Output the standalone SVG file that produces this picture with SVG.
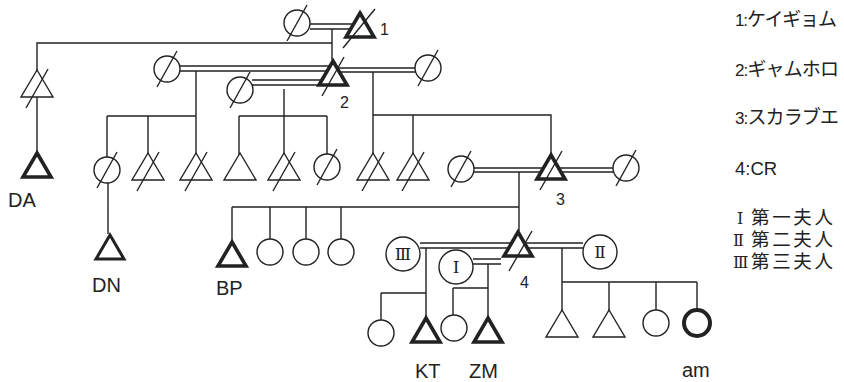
<svg xmlns="http://www.w3.org/2000/svg" width="844" height="382" viewBox="0 0 844 382">
<style>
.ln{stroke:#222;stroke-width:1.4;fill:none}
.nd{fill:#fff;stroke:#222;stroke-width:1.4}
.bd{fill:#fff;stroke:#222;stroke-width:3.6;stroke-linejoin:miter}
.bc{fill:#fff;stroke:#222;stroke-width:4}
.sl{stroke:#222;stroke-width:1.4}
.lb{font-family:"Liberation Sans",Arial,sans-serif;font-size:20px;fill:#222}
.num{font-size:16px}
.lg{font-family:"Liberation Sans","Noto Sans CJK JP",sans-serif;font-size:17px;fill:#222}
.jp{font-family:"Noto Sans CJK JP",sans-serif;font-size:19px}
.jk{font-family:"Noto Sans CJK JP",sans-serif;font-size:18.5px;fill:#222}
.rs{font-family:"DejaVu Serif","Liberation Serif","Noto Sans CJK JP",serif;font-size:16px;fill:#222}
.rn{font-family:"DejaVu Serif","Liberation Serif","Noto Sans CJK JP",serif;font-size:17px;fill:#222;text-anchor:middle}
</style>
<defs>
<polygon id="tri" points="0,0 16,27 -16,27"/>
<polygon id="trb" points="0,3 14,27 -14,27"/>
<line id="ts" x1="-11" y1="38" x2="11" y2="-1"/>
<circle id="c" r="13"/>
<circle id="cw" r="17"/>
<line id="cs" x1="-10" y1="18" x2="10" y2="-18"/>
</defs>
<g id="connectors" class="ln">
<path d="M310,24H358M310,29H358M332,29V60M332,43H37V72M37,97V152"/>
<path d="M180,66H333M180,71H333M196,71V116M107,116H196M107,116V157M148,116V155M196,116V155"/>
<path d="M252,80H333M252,85H333M284,89V155M239,116H327M239,116V155M327,116V154"/>
<path d="M333,68H415M333,72H415M373,72V155M373,115H551V154M413,115V155"/>
<path d="M474,168H613M474,172H613M519,172V231M232,207H519M232,207V241M270,207V239M306,207V239M341,207V239M108,183V234"/>
<path d="M420,243H518M420,248H518M473,259H501M473,264H501M518,243H583M518,248H583"/>
<path d="M426,248V317M381,293H426M381,293V320M488,264V317M453,288H488M453,288V315"/>
<path d="M562,248V312M562,282H697M609,282V312M656,282V310M697,282V310"/>
</g>
<g id="n-w1"><use href="#c" x="297" y="23" class="nd"/><use href="#cs" x="297" y="23" class="sl"/></g>
<g id="n-1"><use href="#trb" x="360" y="10" class="bd"/><line x1="343" y1="48" x2="375" y2="9" class="sl"/><text x="380" y="35" class="lb num">1</text></g>
<g id="n-a"><use href="#tri" x="37" y="70" class="nd"/><use href="#ts" x="37" y="70" class="sl"/></g>
<g id="n-DA"><use href="#trb" x="37" y="150" class="bd"/><text x="8" y="207" class="lb">DA</text></g>
<g id="n-2"><use href="#trb" x="333" y="58" class="bd"/><use href="#ts" x="333" y="58" class="sl"/><text x="340" y="108" class="lb num">2</text></g>
<g id="n-w2a"><use href="#c" x="167" y="69" class="nd"/><use href="#cs" x="167" y="69" class="sl"/></g>
<g id="n-w2b"><use href="#c" x="240" y="90" class="nd"/><use href="#cs" x="240" y="90" class="sl"/></g>
<g id="n-w2c"><use href="#c" x="428" y="68" class="nd"/><use href="#cs" x="428" y="68" class="sl"/></g>
<g id="n-c1"><use href="#c" x="107" y="170" class="nd"/><use href="#cs" x="107" y="170" class="sl"/></g>
<g id="n-c2"><use href="#tri" x="148" y="153" class="nd"/><use href="#ts" x="148" y="153" class="sl"/></g>
<g id="n-c3"><use href="#tri" x="196" y="153" class="nd"/><use href="#ts" x="196" y="153" class="sl"/></g>
<g id="n-c4"><use href="#tri" x="240" y="153" class="nd"/></g>
<g id="n-c5"><use href="#tri" x="284" y="153" class="nd"/><use href="#ts" x="284" y="153" class="sl"/></g>
<g id="n-c6"><use href="#c" x="327" y="167" class="nd"/><use href="#cs" x="327" y="167" class="sl"/></g>
<g id="n-c7"><use href="#tri" x="373" y="153" class="nd"/><use href="#ts" x="373" y="153" class="sl"/></g>
<g id="n-c8"><use href="#tri" x="413" y="153" class="nd"/><use href="#ts" x="413" y="153" class="sl"/></g>
<g id="n-w3a"><use href="#c" x="461" y="169" class="nd"/><use href="#cs" x="461" y="169" class="sl"/></g>
<g id="n-3"><use href="#trb" x="551" y="152" class="bd"/><use href="#ts" x="551" y="152" class="sl"/><text x="556" y="205" class="lb num">3</text></g>
<g id="n-w3b"><use href="#c" x="626" y="168" class="nd"/><use href="#cs" x="626" y="168" class="sl"/></g>
<g id="n-DN"><use href="#trb" x="110" y="232" class="bd" style="stroke-width:3"/><text x="92" y="292" class="lb">DN</text></g>
<g id="n-BP"><use href="#trb" x="232" y="239" class="bd"/><text x="216" y="295" class="lb">BP</text></g>
<g id="n-d1"><use href="#c" x="270" y="252" class="nd"/></g>
<g id="n-d2"><use href="#c" x="306" y="252" class="nd"/></g>
<g id="n-d3"><use href="#c" x="341" y="252" class="nd"/></g>
<g id="n-4"><use href="#trb" x="518" y="229" class="bd"/><line x1="509" y1="271" x2="532" y2="231" class="sl"/><text x="520" y="288" class="lb num">4</text></g>
<g id="n-wIII"><use href="#cw" x="403" y="254" class="nd"/><text x="403" y="260" class="rn">Ⅲ</text></g>
<g id="n-wI"><use href="#cw" x="456" y="267" class="nd"/><text x="456" y="273" class="rn">Ⅰ</text></g>
<g id="n-wII"><use href="#cw" x="600" y="252" class="nd"/><text x="600" y="258" class="rn">Ⅱ</text></g>
<g id="n-e1"><use href="#c" x="381" y="333" class="nd"/></g>
<g id="n-KT"><use href="#trb" x="426" y="315" class="bd"/><text x="415" y="378" class="lb">KT</text></g>
<g id="n-e2"><use href="#c" x="454" y="328" class="nd"/></g>
<g id="n-ZM"><use href="#trb" x="488" y="315" class="bd"/><text x="469" y="378" class="lb">ZM</text></g>
<g id="n-f1"><use href="#tri" x="562" y="310" class="nd"/></g>
<g id="n-f2"><use href="#tri" x="609" y="310" class="nd"/></g>
<g id="n-f3"><use href="#c" x="656" y="323" class="nd"/></g>
<g id="n-am"><use href="#c" x="697" y="323" class="bc"/><text x="682" y="377" class="lb">am</text></g>
<g id="legend">
<text x="735" y="26" class="lg" textLength="102" lengthAdjust="spacing">1:<tspan class="jp">ケイギョム</tspan></text>
<text x="735" y="76" class="lg" textLength="104" lengthAdjust="spacing">2:<tspan class="jp">ギャムホロ</tspan></text>
<text x="735" y="124" class="lg" textLength="104" lengthAdjust="spacing">3:<tspan class="jp">スカラブエ</tspan></text>
<text x="735" y="175" class="lg" style="font-size:18.5px">4:CR</text>
<text x="737" y="224" class="rs">Ⅰ</text><text x="751" y="224" class="jk" textLength="82" lengthAdjust="spacing">第一夫人</text>
<text x="733" y="246" class="rs">Ⅱ</text><text x="751" y="246" class="jk" textLength="82" lengthAdjust="spacing">第二夫人</text>
<text x="733" y="268" class="rs">Ⅲ</text><text x="751" y="268" class="jk" textLength="82" lengthAdjust="spacing">第三夫人</text>
</g>
</svg>
